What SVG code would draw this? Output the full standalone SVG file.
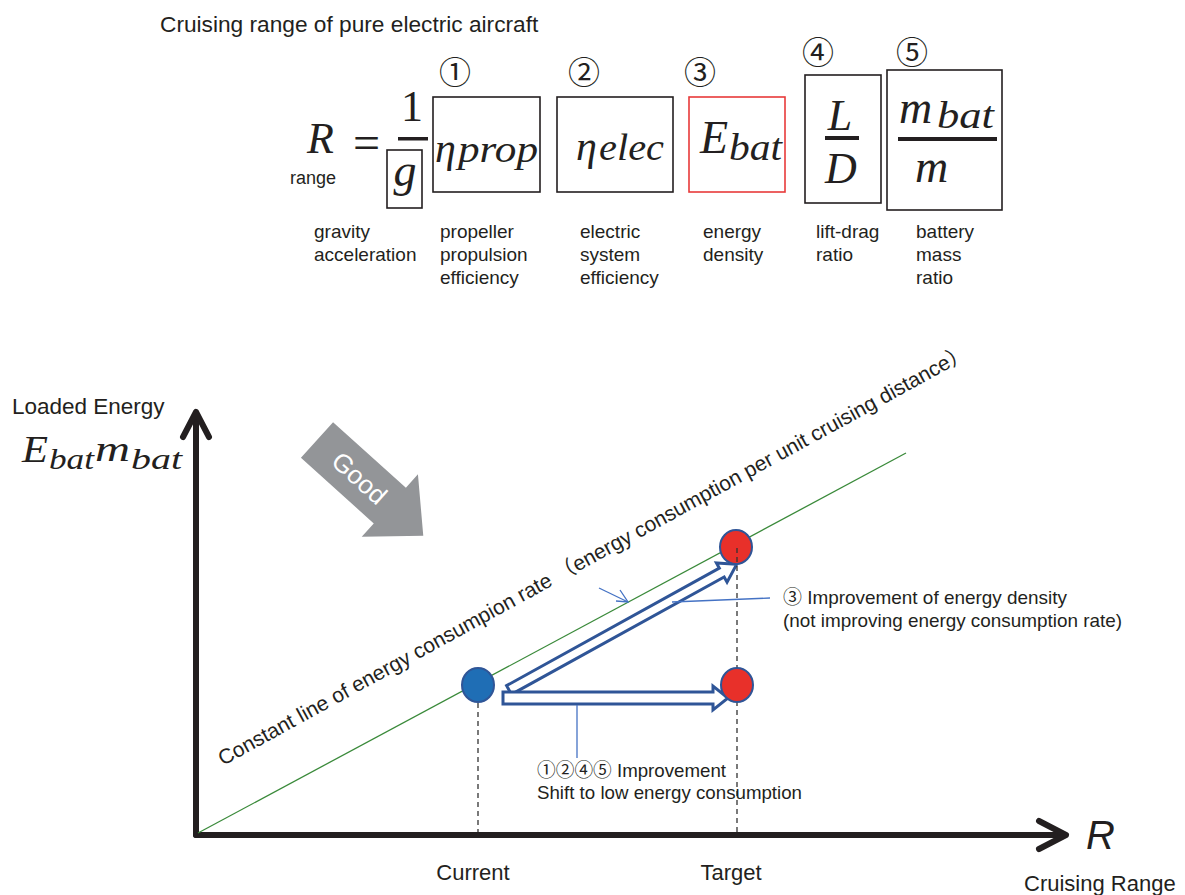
<svg xmlns="http://www.w3.org/2000/svg" width="1185" height="895" viewBox="0 0 1185 895">
<defs>
<style>
.t{font-family:"Liberation Sans",Arial,"Noto Sans CJK JP",sans-serif;fill:#231f20}
.m{font-family:"Liberation Serif","Times New Roman",serif;font-style:italic;fill:#231f20}
.n{font-family:"Liberation Serif","Times New Roman",serif;fill:#231f20}
.c{font-family:"Noto Sans CJK JP","DejaVu Sans",sans-serif;fill:#231f20}
.box{fill:none;stroke:#231f20;stroke-width:1.6}
.axis{fill:none;stroke:#231f20;stroke-width:6;stroke-linecap:round;stroke-linejoin:round}
.dash{stroke:#333;stroke-width:1.3;stroke-dasharray:5 4;fill:none}
.hollow{fill:#fff;stroke:#2f5597;stroke-width:3;stroke-linejoin:miter}
.call{stroke:#4472c4;stroke-width:1.3;fill:none}
.lbl{font-size:19px}
</style>
</defs>
<rect width="1185" height="895" fill="#fff"/>

<g id="title"><text class="t" x="160" y="32" font-size="22.7">Cruising range of pure electric aircraft</text></g>

<g id="term-R">
<text class="m" x="307" y="153" font-size="44">R</text>
<text class="t" x="290" y="184" font-size="18">range</text>
<text class="n" x="353" y="159" font-size="48">=</text>
</g>
<g id="term-g">
<text class="n" x="412" y="121" font-size="44" text-anchor="middle">1</text>
<rect x="398" y="137" width="30" height="3.5" fill="#231f20"/>
<rect class="box" x="387" y="150" width="35" height="58"/>
<text class="m" x="405" y="186" font-size="46" text-anchor="middle">g</text>
<text class="t lbl" x="314" y="238">gravity</text>
<text class="t lbl" x="314" y="261">acceleration</text>
</g>
<g id="term-1">
<text class="c" x="455" y="84" font-size="32" text-anchor="middle">①</text>
<rect class="box" x="433" y="97" width="107" height="95"/>
<text class="m" x="435" y="162" font-size="42">η</text>
<text class="m" x="458" y="162" font-size="38" textLength="80" lengthAdjust="spacingAndGlyphs">prop</text>
<text class="t lbl" x="440" y="238">propeller</text>
<text class="t lbl" x="440" y="261">propulsion</text>
<text class="t lbl" x="440" y="284">efficiency</text>
</g>
<g id="term-2">
<text class="c" x="584" y="84" font-size="32" text-anchor="middle">②</text>
<rect class="box" x="557" y="97" width="116" height="95"/>
<text class="m" x="576" y="160" font-size="42">η</text>
<text class="m" x="599" y="160" font-size="38" textLength="65" lengthAdjust="spacingAndGlyphs">elec</text>
<text class="t lbl" x="580" y="238">electric</text>
<text class="t lbl" x="580" y="261">system</text>
<text class="t lbl" x="580" y="284">efficiency</text>
</g>
<g id="term-3">
<text class="c" x="700" y="84" font-size="32" text-anchor="middle">③</text>
<rect x="689" y="97" width="96" height="95" fill="none" stroke="#e83a3a" stroke-width="1.6"/>
<text class="m" x="700" y="153" font-size="46">E</text>
<text class="m" x="729" y="160" font-size="38" textLength="53" lengthAdjust="spacingAndGlyphs">bat</text>
<text class="t lbl" x="703" y="238">energy</text>
<text class="t lbl" x="703" y="261">density</text>
</g>
<g id="term-4">
<text class="c" x="818" y="64" font-size="32" text-anchor="middle">④</text>
<rect class="box" x="805" y="75" width="76" height="128"/>
<text class="m" x="840" y="130" font-size="44" text-anchor="middle">L</text>
<rect x="825" y="136" width="34" height="4" fill="#231f20"/>
<text class="m" x="841" y="183" font-size="44" text-anchor="middle">D</text>
<text class="t lbl" x="816" y="238">lift-drag</text>
<text class="t lbl" x="816" y="261">ratio</text>
</g>
<g id="term-5">
<text class="c" x="912" y="64" font-size="32" text-anchor="middle">⑤</text>
<rect class="box" x="887" y="70" width="115" height="140"/>
<text class="m" x="899" y="123" font-size="46">m</text>
<text class="m" x="937" y="128" font-size="38" textLength="57" lengthAdjust="spacingAndGlyphs">bat</text>
<rect x="898" y="137" width="99" height="4" fill="#231f20"/>
<text class="m" x="915" y="182" font-size="46">m</text>
<text class="t lbl" x="916" y="238">battery</text>
<text class="t lbl" x="916" y="261">mass</text>
<text class="t lbl" x="916" y="284">ratio</text>
</g>

<g id="axes">
<line class="axis" x1="196" y1="835" x2="196" y2="413"/>
<polyline class="axis" points="183,437 196,412 209,437"/>
<line class="axis" x1="196" y1="835" x2="1064" y2="835"/>
<polyline class="axis" points="1039,821 1066,835 1039,849"/>
<text class="t" x="12" y="414" font-size="22.5">Loaded Energy</text>
<text class="m" x="22" y="462" font-size="38" textLength="26" lengthAdjust="spacingAndGlyphs">E</text>
<text class="m" x="49" y="469" font-size="30" textLength="45" lengthAdjust="spacingAndGlyphs">bat</text>
<text class="m" x="95" y="461" font-size="36" textLength="35" lengthAdjust="spacingAndGlyphs">m</text>
<text class="m" x="131" y="469" font-size="30" textLength="51" lengthAdjust="spacingAndGlyphs">bat</text>
<text class="t" x="1086" y="849" font-size="40" font-style="italic">R</text>
<text class="t" x="1024" y="891" font-size="22">Cruising Range</text>
<text class="t" x="473" y="880" font-size="22" text-anchor="middle">Current</text>
<text class="t" x="731" y="880" font-size="22" text-anchor="middle">Target</text>
</g>

<g id="good-arrow" transform="translate(317,440) rotate(42)">
<polygon points="0,-24 98,-24 98,-42 143,0 98,42 98,24 0,24" fill="#939598"/>
<text x="57" y="9" font-size="26" text-anchor="middle" font-family="Liberation Sans, Arial, sans-serif" fill="#fff">Good</text>
</g>

<g id="constant-line">
<line x1="198" y1="833" x2="906" y2="453" stroke="#3a8a3a" stroke-width="1.3"/>
<text class="t" transform="translate(223,766) rotate(-28.7)" font-size="21">Constant line of energy consumpion rate （energy consumption per unit cruising distance）</text>
</g>

<g id="connectors">
<polygon class="hollow" transform="translate(509,690) rotate(-28.9)" points="0,-5 243,-5 243,-11 260,0 243,11 243,5 0,5"/>
<polygon class="hollow" points="503,692 713,692 713,686 728,698 713,710 713,704 503,704"/>
<line class="call" x1="599" y1="588" x2="628" y2="602"/>
<polyline class="call" points="620,590 628,602 616,601"/>
<line class="call" x1="672" y1="602" x2="770" y2="598"/>
<line class="call" x1="577" y1="705" x2="577" y2="758"/>
<line class="dash" x1="478" y1="703" x2="478" y2="832"/>
</g>

<g id="current">
<ellipse cx="478" cy="685" rx="16" ry="17" fill="#1f6eb5" stroke="#2f5597" stroke-width="2"/>
</g>
<g id="target-top">
<ellipse cx="736" cy="547" rx="16" ry="17" fill="#e8302a" stroke="#2f5597" stroke-width="2"/>
</g>
<line class="dash" x1="737" y1="548" x2="737" y2="832"/>
<g id="target-bottom">
<ellipse cx="737" cy="685" rx="16" ry="17" fill="#e8302a" stroke="#2f5597" stroke-width="2"/>
</g>

<g id="notes">
<text class="t" x="783" y="604" font-size="19" textLength="284" lengthAdjust="spacingAndGlyphs">③ Improvement of energy density</text>
<text class="t" x="783" y="627" font-size="19" textLength="339" lengthAdjust="spacingAndGlyphs">(not improving energy consumption rate)</text>
<text class="t" x="537" y="777" font-size="19" textLength="189" lengthAdjust="spacingAndGlyphs">①②④⑤ Improvement</text>
<text class="t" x="537" y="799" font-size="19" textLength="265" lengthAdjust="spacingAndGlyphs">Shift to low energy consumption</text>
</g>
</svg>
